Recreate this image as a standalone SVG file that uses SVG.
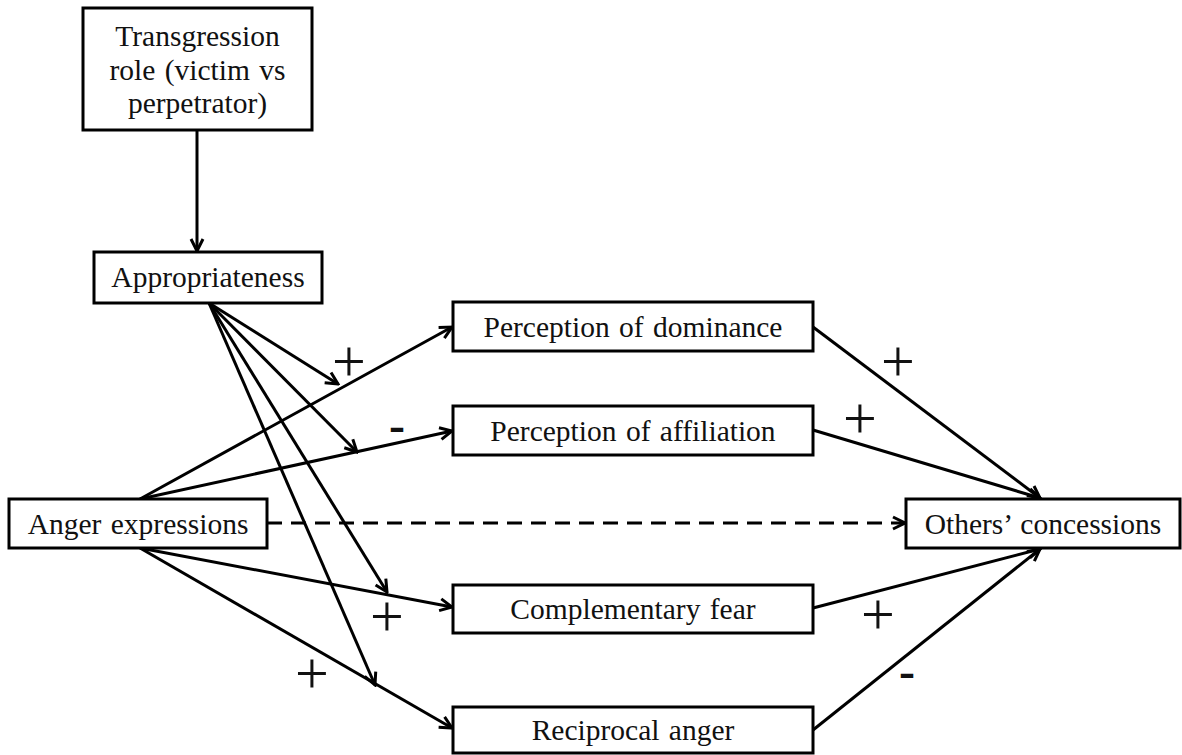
<svg xmlns="http://www.w3.org/2000/svg" width="1182" height="755" viewBox="0 0 1182 755">
<defs>
<style>
.box{fill:#fff;stroke:#000;stroke-width:3}
.t{font-family:"Liberation Serif","Times New Roman",serif;font-size:29.5px;fill:#111;text-anchor:middle;word-spacing:2px}
.sg{font-family:"Liberation Serif","Times New Roman",serif;font-size:60px;fill:#111;text-anchor:middle}
.mn{font-family:"Liberation Serif","Times New Roman",serif;font-size:48px;font-weight:bold;fill:#111;text-anchor:middle}
.c{fill:none;stroke:#000;stroke-width:3;marker-end:url(#ah)}
.d{stroke-dasharray:15 9}
</style>
<marker id="ah" viewBox="0 0 16 16" refX="14" refY="8" markerWidth="16" markerHeight="16" markerUnits="userSpaceOnUse" orient="auto">
<path d="M2,2 L14,8 L2,14" fill="none" stroke="#000" stroke-width="3" stroke-linejoin="miter"/>
</marker>
</defs>
<rect width="1182" height="755" fill="#fff"/>
<g id="connectors">
<line class="c" x1="197" y1="130" x2="197" y2="251"/>
<line class="c" x1="209" y1="303" x2="338" y2="384"/>
<line class="c" x1="209" y1="303" x2="357" y2="452"/>
<line class="c" x1="209" y1="303" x2="387" y2="592"/>
<line class="c" x1="209" y1="303" x2="375" y2="685"/>
<line class="c" x1="140" y1="499" x2="452" y2="327"/>
<line class="c" x1="140" y1="499" x2="452" y2="431"/>
<line class="c" x1="140" y1="548" x2="452" y2="607"/>
<line class="c" x1="140" y1="548" x2="452" y2="728"/>
<line class="c d" x1="267" y1="523" x2="905" y2="523"/>
<line class="c" x1="813" y1="327" x2="1040" y2="498"/>
<line class="c" x1="813" y1="430" x2="1040" y2="498"/>
<line class="c" x1="813" y1="608" x2="1040" y2="549"/>
<line class="c" x1="813" y1="730" x2="1040" y2="549"/>
</g>
<g id="signs">
<text class="sg" x="349" y="381">+</text>
<text class="mn" x="397" y="441">-</text>
<text class="sg" x="387" y="636">+</text>
<text class="sg" x="312" y="693">+</text>
<text class="sg" x="898" y="381">+</text>
<text class="sg" x="860" y="438">+</text>
<text class="sg" x="878" y="634">+</text>
<text class="mn" x="907" y="687">-</text>
</g>
<g id="n-transgression">
<rect class="box" x="83" y="8" width="229" height="122"/>
<text class="t" x="197.5" y="46">Transgression</text>
<text class="t" x="197.5" y="80">role (victim vs</text>
<text class="t" x="197.5" y="113">perpetrator)</text>
</g>
<g id="n-appropriateness">
<rect class="box" x="94" y="252" width="228" height="51"/>
<text class="t" x="208" y="287">Appropriateness</text>
</g>
<g id="n-anger">
<rect class="box" x="9" y="499" width="258" height="49"/>
<text class="t" x="138" y="534">Anger expressions</text>
</g>
<g id="n-dominance">
<rect class="box" x="453" y="302" width="360" height="49"/>
<text class="t" x="633" y="337">Perception of dominance</text>
</g>
<g id="n-affiliation">
<rect class="box" x="453" y="406" width="360" height="49"/>
<text class="t" x="633" y="441">Perception of affiliation</text>
</g>
<g id="n-fear">
<rect class="box" x="453" y="585" width="360" height="48"/>
<text class="t" x="633" y="619">Complementary fear</text>
</g>
<g id="n-reciprocal">
<rect class="box" x="453" y="707" width="360" height="46"/>
<text class="t" x="633" y="740">Reciprocal anger</text>
</g>
<g id="n-concessions">
<rect class="box" x="906" y="499" width="274" height="49"/>
<text class="t" x="1043" y="534">Others’ concessions</text>
</g>
</svg>
